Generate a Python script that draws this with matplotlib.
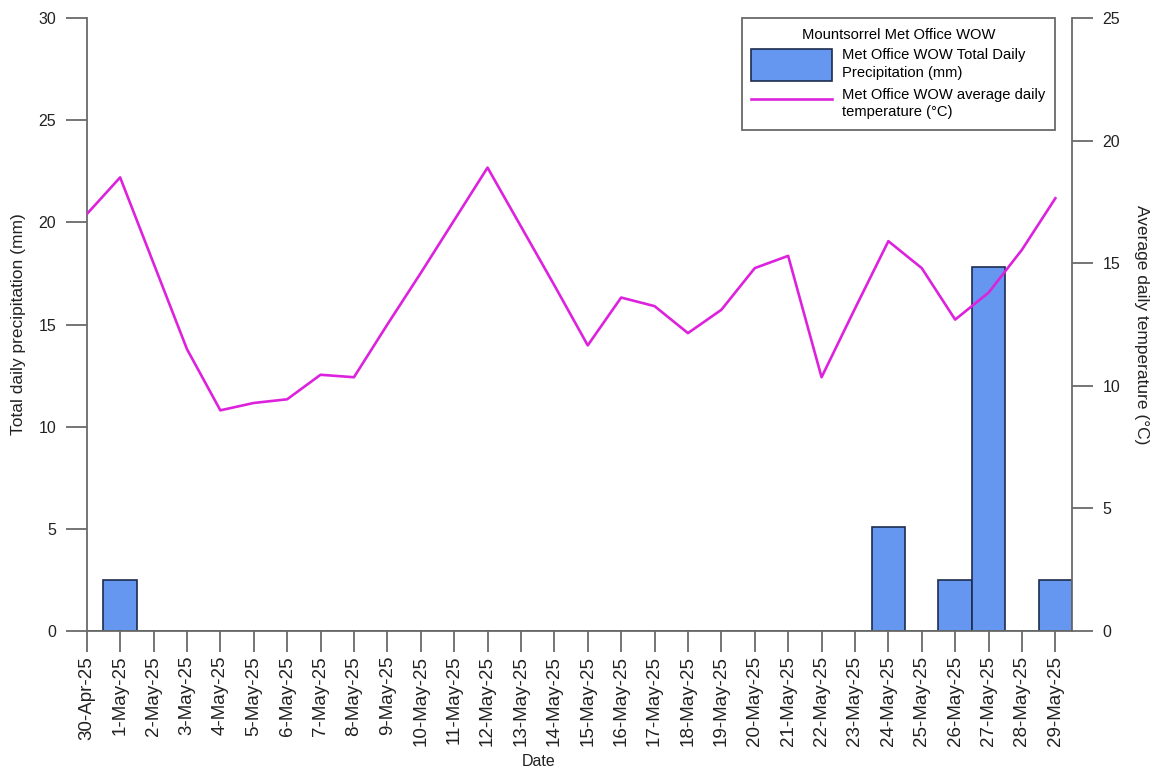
import matplotlib
matplotlib.use("Agg")
import matplotlib.pyplot as plt
from matplotlib.patches import Patch
from matplotlib.lines import Line2D
import numpy as np

plt.rcParams['font.family'] = ['Liberation Sans', 'DejaVu Sans']

dates = ["30-Apr-25"] + [f"{d}-May-25" for d in range(1, 30)]

precip_mm = [0, 2.5, 0, 0, 0, 0, 0, 0, 0, 0,
             0, 0, 0, 0, 0, 0, 0, 0, 0, 0,
             0, 0, 0, 0, 5.1, 0, 2.5, 17.8, 0, 2.5]

temp_c = [17.0, 18.5, 15.0, 11.5, 9.0, 9.3, 9.45, 10.45, 10.35, 12.5,
          14.6, 16.75, 18.9, 16.5, 14.1, 11.65, 13.6, 13.25, 12.15, 13.1,
          14.8, 15.3, 10.35, 13.15, 15.9, 14.8, 12.7, 13.8, 15.55, 17.65]

bar_color = "#6596F0"
bar_edge = "#1E2C4E"
line_color = "#DD22DD"
axis_gray = "#6A6A6A"
text_color = "#222222"

fig = plt.figure(figsize=(11.61, 7.71), dpi=100)
ax = fig.add_axes([0.0747, 0.1816, 0.8487, 0.795])
ax2 = ax.twinx()

x = np.arange(len(dates))
ax.bar(x, precip_mm, width=1.0, color=bar_color, edgecolor=bar_edge, linewidth=1.2)
ax2.plot(x, temp_c, color=line_color, linewidth=1.9)

ax.set_xlim(0, 29.5)
ax.set_ylim(0, 30)
ax2.set_ylim(0, 25)

ax.set_yticks(range(0, 31, 5))
ax2.set_yticks(range(0, 26, 5))
ax.set_xticks(x)
ax.set_xticklabels(dates, rotation=90)

for a in (ax, ax2):
    a.spines['top'].set_visible(False)
    for s in a.spines.values():
        s.set_color(axis_gray)
        s.set_linewidth(1.3)
ax.spines['right'].set_visible(False)
ax2.spines['left'].set_visible(False)
ax2.spines['bottom'].set_visible(False)

tick_kw = dict(direction='out', length=15, width=1.3, color=axis_gray,
               labelcolor=text_color)
ax.tick_params(axis='y', labelsize=11.5, pad=7, **tick_kw)
ax2.tick_params(axis='y', labelsize=11.5, pad=7, **tick_kw)
ax.tick_params(axis='x', labelsize=13.5, pad=3, **tick_kw)

ax.set_xlabel("Date", fontsize=11.5, color=text_color)
ax.xaxis.set_label_coords((539 - 86.7) / 985.3, -0.2)
ax.set_ylabel("Total daily precipitation (mm)", fontsize=12.5, color=text_color)
ax.yaxis.set_label_coords(-0.0616, 0.5)
ax2.set_ylabel("Average daily temperature (°C)", fontsize=12.5, color=text_color,
               rotation=-90)
ax2.yaxis.set_label_coords(1.078, 0.5)

handles = [Patch(facecolor=bar_color, edgecolor=bar_edge, linewidth=1.2),
           Line2D([0], [0], color=line_color, linewidth=1.9)]
labels = ["Met Office WOW Total Daily\nPrecipitation (mm)",
          "Met Office WOW average daily\ntemperature (°C)"]
leg = ax2.legend(handles, labels, title="Mountsorrel Met Office WOW",
                 loc='upper right', bbox_to_anchor=(0.983, 1.0),
                 fontsize=10.6, title_fontsize=10.6, frameon=True, fancybox=False,
                 handlelength=5.5, handleheight=3.0, handletextpad=0.7,
                 borderpad=0.65, labelspacing=0.45, borderaxespad=0.0)
for t in leg.get_texts():
    t.set_linespacing(1.3)
leg.get_title().set_position((0, 0))
leg.get_frame().set_edgecolor("#444444")
leg.get_frame().set_linewidth(1.3)

fig.savefig("out.png", dpi=100, facecolor="white")
